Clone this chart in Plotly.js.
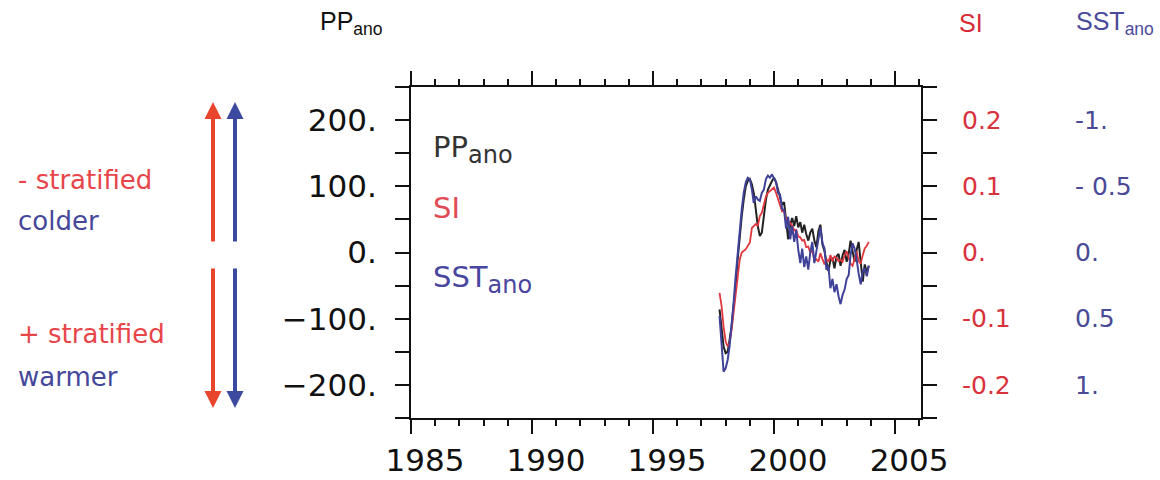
<!DOCTYPE html>
<html>
<head>
<meta charset="utf-8">
<script src="https://cdn.plot.ly/plotly-3.0.1.min.js"></script>
<style>html,body{margin:0;padding:0;background:#fff;}</style>
</head>
<body>
<div id="chart" style="width:1160px;height:480px;"></div>
<script>
// Monthly time axis (Oct 1997 - Dec 2003)
const months = [
 '1997-10','1997-11','1997-12',
 '1998-01','1998-02','1998-03','1998-04','1998-05','1998-06','1998-07','1998-08','1998-09','1998-10','1998-11','1998-12',
 '1999-01','1999-02','1999-03','1999-04','1999-05','1999-06','1999-07','1999-08','1999-09','1999-10','1999-11','1999-12',
 '2000-01','2000-02','2000-03','2000-04','2000-05','2000-06','2000-07','2000-08','2000-09','2000-10','2000-11','2000-12',
 '2001-01','2001-02','2001-03','2001-04','2001-05','2001-06','2001-07','2001-08','2001-09','2001-10','2001-11','2001-12',
 '2002-01','2002-02','2002-03','2002-04','2002-05','2002-06','2002-07','2002-08','2002-09','2002-10','2002-11','2002-12',
 '2003-01','2003-02','2003-03','2003-04','2003-05','2003-06','2003-07','2003-08','2003-09','2003-10','2003-11','2003-12'
];
// Primary production anomaly (left axis)
const ppAno = [
 -86,-112,-142,-152,-150,-132,-112,-81,-51,-11,25,55,80,100,108,111,103,90,65,40,25,30,55,80,95,
 103,108,113,106,95,
 85,72,76,45,20,42,52,40,55,38,46,30,42,28,18,30,36,18,8,32,
 42,12,2,-14,-28,-12,-8,-24,-6,-2,-20,-4,4,-14,-2,18,2,-14,4,16,-14,-44,-18,-30,-20
];
// Stratification index (red right axis)
const siVals = [
 -0.061,-0.081,-0.112,-0.134,-0.142,-0.137,-0.117,-0.091,-0.061,-0.031,-0.011,0.000,0.002,0.005,0.010,
 0.015,0.037,0.040,0.043,0.040,0.055,0.060,0.075,0.085,0.090,0.093,0.095,0.098,0.090,0.080,
 0.070,0.062,0.063,0.050,0.048,0.044,0.041,0.033,0.034,0.024,
 0.023,0.018,0.019,0.008,0.009,0.000,0.003,-0.012,-0.010,-0.014,
 -0.001,-0.010,-0.018,-0.010,-0.014,-0.004,-0.013,-0.006,-0.008,-0.013,
 -0.011,-0.014,-0.004,0.002,-0.010,-0.017,-0.020,-0.008,0.002,-0.013,
 -0.017,-0.004,0.006,0.010,0.016
];
// SST anomaly (blue right axis, reversed)
const sstAno = [
 0.48,0.71,0.90,0.875,0.81,0.71,0.56,0.38,0.18,0.0,-0.15,-0.325,-0.45,-0.53,-0.565,
 -0.555,-0.475,-0.375,-0.425,-0.40,-0.39,-0.45,-0.475,-0.555,-0.58,-0.565,-0.59,-0.555,-0.53,-0.45,
 -0.44,-0.33,-0.32,-0.18,-0.27,-0.10,-0.20,-0.08,-0.17,-0.02,
 0.08,-0.03,0.11,0.03,0.13,0.0,-0.08,0.08,-0.02,-0.10,
 -0.19,-0.07,-0.03,0.13,0.10,0.27,0.20,0.30,0.24,0.33,
 0.39,0.32,0.28,0.20,0.17,0.02,-0.07,-0.03,0.05,0.16,
 0.24,0.14,0.12,0.18,0.10
];
const xTickVals = ['1985-01-01','1990-01-01','1995-01-01','2000-01-01','2005-01-01'];
const xTickText = ['1985','1990','1995','2000','2005'];
const ppTickVals = [-250,-200,-150,-100,-50,0,50,100,150,200,250];
const ppTickText = ['','\u2212200.','','\u2212100.','','0.','','100.','','200.',''];
const siTickVals = [-0.2,-0.1,0,0.1,0.2];
const siTickText = ['-0.2','-0.1','0.','0.1','0.2'];
const sstTickVals = [-1,-0.5,0,0.5,1];
const sstTickText = ['-1.','- 0.5','0.','0.5','1.'];

const RED = '#e0383e', BLUE = '#40429a', BLACK = '#222222';
const ARROW_RED = '#e8452c', ARROW_BLUE = '#3b4a9e';

const traces = [
  {x: months, y: siVals, yaxis: 'y2', type: 'scatter', mode: 'lines', line: {color: RED, width: 1.8}, hoverinfo: 'skip'},
  {x: months, y: ppAno, yaxis: 'y', type: 'scatter', mode: 'lines', line: {color: BLACK, width: 2}, hoverinfo: 'skip'},
  {x: months, y: sstAno, yaxis: 'y3', type: 'scatter', mode: 'lines', line: {color: BLUE, width: 2}, hoverinfo: 'skip'}
];

const F = 'DejaVu Sans, sans-serif';
function px2x(p){ return (p - 411) / 510; }
function px2y(p){ return (418 - p) / 331; }

const annotations = [
  // top headers
  {xref:'paper', yref:'paper', x: px2x(318), y: px2y(23), xanchor:'left', yanchor:'middle', showarrow:false,
   text:'PP<sub>ano</sub>', font:{family:'Liberation Sans, Arial', size:25, color:'#111'}},
  {xref:'paper', yref:'paper', x: px2x(957), y: px2y(23), xanchor:'left', yanchor:'middle', showarrow:false,
   text:'SI', font:{family:'Liberation Sans, Arial', size:25, color:'#d62a36'}},
  {xref:'paper', yref:'paper', x: px2x(1074), y: px2y(23), xanchor:'left', yanchor:'middle', showarrow:false,
   text:'SST<sub>ano</sub>', font:{family:'Liberation Sans, Arial', size:25, color:'#4a4a9a'}},
  // in-plot labels
  {xref:'paper', yref:'paper', x: px2x(431), y: px2y(149), xanchor:'left', yanchor:'middle', showarrow:false,
   text:'PP<sub><span style="font-size:24px">ano</span></sub>', font:{family:F, size:29, color:'#333'}},
  {xref:'paper', yref:'paper', x: px2x(431), y: px2y(208), xanchor:'left', yanchor:'middle', showarrow:false,
   text:'SI', font:{family:F, size:29, color:'#e24a55'}},
  {xref:'paper', yref:'paper', x: px2x(431), y: px2y(279), xanchor:'left', yanchor:'middle', showarrow:false,
   text:'SST<sub><span style="font-size:24px">ano</span></sub>', font:{family:F, size:29, color:'#48469e'}},
  // left side explanation
  {xref:'paper', yref:'paper', x: px2x(16), y: px2y(180), xanchor:'left', yanchor:'middle', showarrow:false,
   text:'- stratified', font:{family:F, size:26, color:'#e8454a'}},
  {xref:'paper', yref:'paper', x: px2x(16), y: px2y(221), xanchor:'left', yanchor:'middle', showarrow:false,
   text:'colder', font:{family:F, size:26, color:'#45489a'}},
  {xref:'paper', yref:'paper', x: px2x(16), y: px2y(334), xanchor:'left', yanchor:'middle', showarrow:false,
   text:'+ stratified', font:{family:F, size:26, color:'#e8454a'}},
  {xref:'paper', yref:'paper', x: px2x(16), y: px2y(377), xanchor:'left', yanchor:'middle', showarrow:false,
   text:'warmer', font:{family:F, size:26, color:'#45489a'}},
  // arrows
  {xref:'paper', yref:'paper', x: px2x(213), y: px2y(102), ax:0, ay:141, text:'', showarrow:true,
   arrowhead:2, arrowsize:0.85, arrowwidth:4, arrowcolor:ARROW_RED, standoff:0, startstandoff:0},
  {xref:'paper', yref:'paper', x: px2x(213), y: px2y(408), ax:0, ay:-141, text:'', showarrow:true,
   arrowhead:2, arrowsize:0.85, arrowwidth:4, arrowcolor:ARROW_RED, standoff:0, startstandoff:0},
  {xref:'paper', yref:'paper', x: px2x(235), y: px2y(102), ax:0, ay:141, text:'', showarrow:true,
   arrowhead:2, arrowsize:0.85, arrowwidth:4, arrowcolor:ARROW_BLUE, standoff:0, startstandoff:0},
  {xref:'paper', yref:'paper', x: px2x(235), y: px2y(408), ax:0, ay:-141, text:'', showarrow:true,
   arrowhead:2, arrowsize:0.85, arrowwidth:4, arrowcolor:ARROW_BLUE, standoff:0, startstandoff:0}
];

const layout = {
  width: 1160, height: 480,
  margin: {l: 411, r: 239, t: 87, b: 62, pad: 0},
  paper_bgcolor: '#ffffff', plot_bgcolor: '#ffffff',
  showlegend: false,
  font: {family: F, color: '#111'},
  xaxis: {
    type: 'date', range: ['1985-01-01', '2006-01-27'],
    tickvals: xTickVals, ticktext: xTickText,
    ticks: 'outside', ticklen: 14, tickwidth: 2, tickcolor: '#111',
    minor: {dtick: 'M12', tick0: '1985-01-01', ticks: 'outside', ticklen: 6, tickwidth: 2, tickcolor: '#111', showgrid: false},
    showline: true, linecolor: '#111', linewidth: 2, mirror: 'ticks',
    showgrid: false, zeroline: false,
    tickfont: {family: F, size: 31, color: '#111'},
    ticklabelshift: 14, ticklabelstandoff: 0
  },
  yaxis: {
    range: [-250, 250],
    tickvals: ppTickVals, ticktext: ppTickText,
    ticks: 'outside', ticklen: 14, tickwidth: 2, tickcolor: '#111',
    showline: true, linecolor: '#111', linewidth: 2, mirror: 'ticks',
    showgrid: false, zeroline: false,
    tickfont: {family: F, size: 31, color: '#111'},
    ticklabelstandoff: 12
  },
  yaxis2: {
    overlaying: 'y', side: 'right', anchor: 'x',
    range: [-0.25, 0.25],
    tickvals: siTickVals, ticktext: siTickText,
    ticks: '', showline: false, showgrid: false, zeroline: false,
    tickfont: {family: F, size: 25, color: '#d8323c'},
    ticklabelstandoff: 40
  },
  yaxis3: {
    overlaying: 'y', side: 'right', anchor: 'x',
    range: [1.25, -1.25],
    tickvals: sstTickVals, ticktext: sstTickText,
    ticks: '', showline: false, showgrid: false, zeroline: false,
    tickfont: {family: F, size: 25, color: '#4a4a96'},
    ticklabelstandoff: 153
  },
  annotations: annotations
};

Plotly.newPlot('chart', traces, layout, {staticPlot: true, displayModeBar: false});
</script>
</body>
</html>
